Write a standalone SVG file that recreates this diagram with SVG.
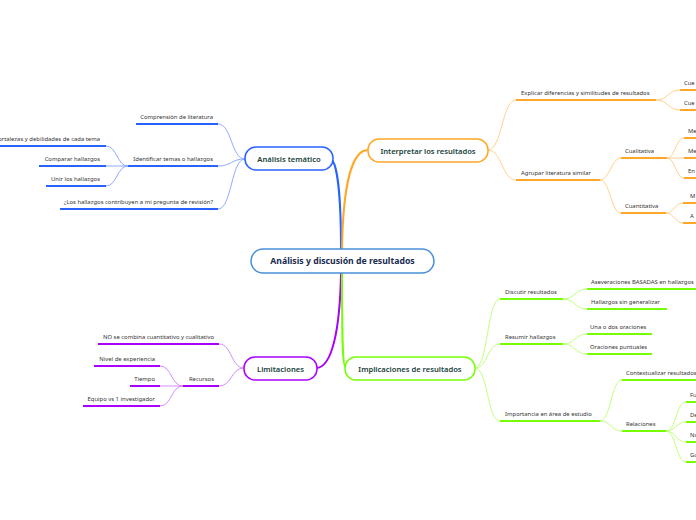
<svg xmlns="http://www.w3.org/2000/svg" width="696" height="520" viewBox="0 0 696 520">
<style>
.bg{fill:#ffffff}
.leaf{font-family:"Noto Sans",sans-serif;font-size:5.9px;fill:#333333}
.lr{text-anchor:end}
.node{fill:#ffffff;stroke-width:1.5}
.ntext{font-family:"Noto Sans",sans-serif;font-size:7.6px;font-weight:600;fill:#17423a;text-anchor:middle}
.ctext{font-family:"Noto Sans",sans-serif;font-size:8.7px;font-weight:700;fill:#1a2b50;text-anchor:middle}
.ub{stroke:#2962ff;stroke-width:2;fill:none}
.uo{stroke:#ffa726;stroke-width:2;fill:none}
.up{stroke:#aa00ff;stroke-width:2;fill:none}
.ug{stroke:#76ff03;stroke-width:2;fill:none}
.cb{stroke:#82a0ff;stroke-width:0.9;fill:none}
.co{stroke:#ffcc80;stroke-width:0.9;fill:none}
.cp{stroke:#cc80ff;stroke-width:0.9;fill:none}
.cg{stroke:#b9ff70;stroke-width:0.9;fill:none}
</style>
<rect class="bg" x="0" y="0" width="696" height="520"/>
<g id="connectors">
  <path d="M341,249 C341,195 337,163 331,159" stroke="#2962ff" stroke-width="2" fill="none"/>
  <path d="M342,249 C343,185 352,150 368,150" stroke="#ffa726" stroke-width="2" fill="none"/>
  <path d="M341,273 C340,330 332,368 316,368" stroke="#aa00ff" stroke-width="2" fill="none"/>
  <path d="M342,273 C342,330 342,368 346,368" stroke="#76ff03" stroke-width="2" fill="none"/>
  <path class="cb" d="M245,159 C231,159 232,124 218,124"/>
  <path class="cb" d="M245,159 C231,159 232,166 218,166"/>
  <path class="cb" d="M245,159 C231,159 232,209 218,209"/>
  <path class="cb" d="M128,166 C117,166 117,146 106,146"/>
  <path class="cb" d="M128,166 L106,166"/>
  <path class="cb" d="M128,166 C117,166 117,186 106,186"/>
  <path class="co" d="M488,150 C502,150 502,100 516,100"/>
  <path class="co" d="M488,150 C502,150 502,180 516,180"/>
  <path class="co" d="M656,100 C668,100 668,90 680,90"/>
  <path class="co" d="M656,100 C668,100 668,110 680,110"/>
  <path class="co" d="M600,180 C610,180 611,158 621,158"/>
  <path class="co" d="M600,180 C610,180 611,213 621,213"/>
  <path class="co" d="M667,158 C675,158 676,138 684,138"/>
  <path class="co" d="M667,158 L684,158"/>
  <path class="co" d="M667,158 C675,158 676,178 684,178"/>
  <path class="co" d="M666,213 C674,213 675,203 683,203"/>
  <path class="co" d="M666,213 C674,213 675,223 683,223"/>
  <path class="cg" d="M475,368 C488,368 487,299 500,299"/>
  <path class="cg" d="M475,368 C488,368 487,344 500,344"/>
  <path class="cg" d="M475,368 C488,368 487,421 500,421"/>
  <path class="cg" d="M563,299 C575,299 575,289 587,289"/>
  <path class="cg" d="M563,299 C575,299 575,309 587,309"/>
  <path class="cg" d="M563,344 C575,344 575,334 587,334"/>
  <path class="cg" d="M563,344 C575,344 575,354 587,354"/>
  <path class="cg" d="M600,421 C611,421 611,380 622,380"/>
  <path class="cg" d="M600,421 C611,421 611,431 622,431"/>
  <path class="cg" d="M666,431 C676,431 676,402 686,402"/>
  <path class="cg" d="M666,431 C676,431 676,422 686,422"/>
  <path class="cg" d="M666,431 C676,431 676,442 686,442"/>
  <path class="cg" d="M666,431 C676,431 676,462 686,462"/>
  <path class="cp" d="M244,368 C231,368 232,344 219,344"/>
  <path class="cp" d="M244,368 C231,368 232,386 219,386"/>
  <path class="cp" d="M183,386 C171,386 172,366 160,366"/>
  <path class="cp" d="M183,386 L160,386"/>
  <path class="cp" d="M183,386 C171,386 172,406 160,406"/>
</g>
<g id="central">
  <rect class="node" x="251" y="249" width="183" height="24" rx="12" stroke="#4a90d9"/>
  <text class="ctext" x="342.5" y="264.3">Análisis y discusión de resultados</text>
</g>
<g id="analisis-tematico">
  <rect class="node" x="245" y="147" width="88" height="23" rx="11" stroke="#2962ff"/>
  <text class="ntext" x="289" y="161.5">Análisis temático</text>
</g>
<g id="interpretar">
  <rect class="node" x="368" y="139" width="120" height="23" rx="11" stroke="#ffa726"/>
  <text class="ntext" x="428" y="153.5">Interpretar los resultados</text>
</g>
<g id="limitaciones">
  <rect class="node" x="244" y="357" width="73" height="23" rx="11" stroke="#aa00ff"/>
  <text class="ntext" x="280.5" y="371.5">Limitaciones</text>
</g>
<g id="implicaciones">
  <rect class="node" x="345" y="357" width="130" height="23" rx="11" stroke="#76ff03"/>
  <text class="ntext" x="410" y="371.5">Implicaciones de resultados</text>
</g>
<g id="comprension">
  <line class="ub" x1="136" y1="124" x2="218" y2="124"/>
  <text class="leaf lr" x="213" y="119">Comprensión de literatura</text>
</g>
<g id="identificar">
  <line class="ub" x1="128" y1="166" x2="218" y2="166"/>
  <text class="leaf lr" x="213" y="161">Identificar temas o hallazgos</text>
</g>
<g id="contribuyen">
  <line class="ub" x1="60" y1="209" x2="218" y2="209"/>
  <text class="leaf lr" x="213" y="204">¿Los hallazgos contribuyen a mi pregunta de revisión?</text>
</g>
<g id="fortalezas">
  <line class="ub" x1="0" y1="146" x2="106" y2="146"/>
  <text class="leaf lr" x="100" y="141">Fortalezas y debilidades de cada tema</text>
</g>
<g id="comparar">
  <line class="ub" x1="39" y1="166" x2="106" y2="166"/>
  <text class="leaf lr" x="100" y="161">Comparar hallazgos</text>
</g>
<g id="unir">
  <line class="ub" x1="46" y1="186" x2="106" y2="186"/>
  <text class="leaf lr" x="100" y="181">Unir los hallazgos</text>
</g>
<g id="explicar">
  <line class="uo" x1="516" y1="100" x2="656" y2="100"/>
  <text class="leaf" x="521" y="95">Explicar diferencias y similitudes de resultados</text>
</g>
<g id="agrupar">
  <line class="uo" x1="516" y1="180" x2="600" y2="180"/>
  <text class="leaf" x="521" y="175">Agrupar literatura similar</text>
</g>
<g id="cue1">
  <line class="uo" x1="680" y1="90" x2="700" y2="90"/>
  <text class="leaf" x="684" y="85">Cue</text>
</g>
<g id="cue2">
  <line class="uo" x1="680" y1="110" x2="700" y2="110"/>
  <text class="leaf" x="684" y="105">Cue</text>
</g>
<g id="cualitativa">
  <line class="uo" x1="621" y1="158" x2="667" y2="158"/>
  <text class="leaf" x="625" y="153">Cualitativa</text>
</g>
<g id="cuantitativa">
  <line class="uo" x1="621" y1="213" x2="666" y2="213"/>
  <text class="leaf" x="625" y="208">Cuantitativa</text>
</g>
<g id="me1">
  <line class="uo" x1="684" y1="138" x2="700" y2="138"/>
  <text class="leaf" x="688" y="133">Me</text>
</g>
<g id="me2">
  <line class="uo" x1="684" y1="158" x2="700" y2="158"/>
  <text class="leaf" x="688" y="153">Me</text>
</g>
<g id="en">
  <line class="uo" x1="684" y1="178" x2="700" y2="178"/>
  <text class="leaf" x="688" y="173">En</text>
</g>
<g id="m">
  <line class="uo" x1="683" y1="203" x2="700" y2="203"/>
  <text class="leaf" x="690" y="198">M</text>
</g>
<g id="a">
  <line class="uo" x1="683" y1="223" x2="700" y2="223"/>
  <text class="leaf" x="690" y="218">A</text>
</g>
<g id="discutir">
  <line class="ug" x1="500" y1="299" x2="563" y2="299"/>
  <text class="leaf" x="505" y="294">Discutir resultados</text>
</g>
<g id="resumir">
  <line class="ug" x1="500" y1="344" x2="563" y2="344"/>
  <text class="leaf" x="505" y="339">Resumir hallazgos</text>
</g>
<g id="importancia">
  <line class="ug" x1="500" y1="421" x2="600" y2="421"/>
  <text class="leaf" x="505" y="416">Importancia en área de estudio</text>
</g>
<g id="aseveraciones">
  <line class="ug" x1="587" y1="289" x2="700" y2="289"/>
  <text class="leaf" x="591" y="284">Aseveraciones BASADAS en hallazgos</text>
</g>
<g id="sin-generalizar">
  <line class="ug" x1="587" y1="309" x2="667" y2="309"/>
  <text class="leaf" x="591" y="304">Hallazgos sin generalizar</text>
</g>
<g id="una-dos">
  <line class="ug" x1="587" y1="334" x2="652" y2="334"/>
  <text class="leaf" x="590" y="329">Una o dos oraciones</text>
</g>
<g id="puntuales">
  <line class="ug" x1="587" y1="354" x2="652" y2="354"/>
  <text class="leaf" x="590" y="349">Oraciones puntuales</text>
</g>
<g id="contextualizar">
  <line class="ug" x1="622" y1="380" x2="700" y2="380"/>
  <text class="leaf" x="626" y="375">Contextualizar resultados</text>
</g>
<g id="relaciones">
  <line class="ug" x1="622" y1="431" x2="666" y2="431"/>
  <text class="leaf" x="626" y="426">Relaciones</text>
</g>
<g id="fu">
  <line class="ug" x1="686" y1="402" x2="700" y2="402"/>
  <text class="leaf" x="690" y="397">Fu</text>
</g>
<g id="de">
  <line class="ug" x1="686" y1="422" x2="700" y2="422"/>
  <text class="leaf" x="690" y="417">De</text>
</g>
<g id="nu">
  <line class="ug" x1="686" y1="442" x2="700" y2="442"/>
  <text class="leaf" x="690" y="437">Nu</text>
</g>
<g id="gu">
  <line class="ug" x1="686" y1="462" x2="700" y2="462"/>
  <text class="leaf" x="690" y="457">Gu</text>
</g>
<g id="no-combina">
  <line class="up" x1="98" y1="344" x2="219" y2="344"/>
  <text class="leaf lr" x="214" y="339">NO se combina cuantitativo y cualitativo</text>
</g>
<g id="recursos">
  <line class="up" x1="183" y1="386" x2="219" y2="386"/>
  <text class="leaf lr" x="214" y="381">Recursos</text>
</g>
<g id="nivel">
  <line class="up" x1="94" y1="366" x2="160" y2="366"/>
  <text class="leaf lr" x="155" y="361">Nivel de experiencia</text>
</g>
<g id="tiempo">
  <line class="up" x1="130" y1="386" x2="160" y2="386"/>
  <text class="leaf lr" x="155" y="381">Tiempo</text>
</g>
<g id="equipo">
  <line class="up" x1="83" y1="406" x2="160" y2="406"/>
  <text class="leaf lr" x="155" y="401">Equipo vs 1 investigador</text>
</g>
</svg>
